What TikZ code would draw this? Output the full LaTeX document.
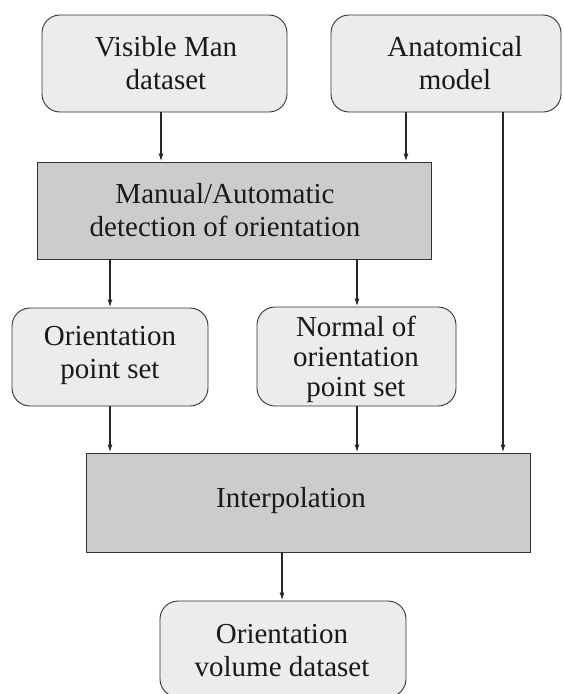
\documentclass[tikz,border=0pt]{standalone}
\usepackage{fontspec}
\setmainfont{Liberation Serif}
\usetikzlibrary{arrows.meta}
\begin{document}
\begin{tikzpicture}[x=1pt,y=-1pt,
  rbox/.style={draw=black!80, line width=0.9pt, fill=gray!15, rounded corners=18pt, inner sep=0pt},
  sbox/.style={draw=black!80, line width=0.9pt, fill=gray!40, inner sep=0pt},
  lbl/.style={align=center, inner sep=0pt, font=\fontsize{29}{33}\selectfont, text=black!90},
  arr/.style={draw=black!85, line width=1.4pt, -{Latex[length=8pt,width=5pt]}}]
\useasboundingbox (0,0) rectangle (564,694);
% boxes
\node[rbox, minimum width=245pt, minimum height=97pt] (vm) at (164.5,63.5) {};
\node[rbox, minimum width=230pt, minimum height=97pt] (am) at (446,63.5) {};
\node[sbox, minimum width=394pt, minimum height=97pt] (md) at (234,210.5) {};
\node[rbox, minimum width=196pt, minimum height=98pt] (ops) at (110,357) {};
\node[rbox, minimum width=199pt, minimum height=99pt] (nps) at (356.5,356.5) {};
\node[sbox, minimum width=444pt, minimum height=99pt] (ip) at (308,502.5) {};
\node[rbox, minimum width=246pt, minimum height=96pt] (ovd) at (283,649) {};
% labels
\node[lbl] (vmt) at (166,63.5) {Visible Man\\dataset};
\node[lbl] (amt) at (455,63.5) {Anatomical\\model};
\node[lbl] (mdt) at (225,210.5) {Manual/Automatic\\detection of orientation};
\node[lbl] (opst) at (110,355) {Orientation\\point set};
\node[lbl, font=\fontsize{29}{30}\selectfont] (npst) at (356,359) {Normal of\\orientation\\point set};
\node[lbl] (ipt) at (291,501) {Interpolation};
\node[lbl] (ovdt) at (282,651) {Orientation\\volume dataset};
% connector x positions
\coordinate (c1) at (161,0);
\coordinate (c2) at (406,0);
\coordinate (c3) at (503,0);
\coordinate (c4) at (110,0);
\coordinate (c5) at (357,0);
\coordinate (c6) at (282,0);
% connectors
\draw[arr] (vm.south -| c1) -- (md.north -| c1);
\draw[arr] (am.south -| c2) -- (md.north -| c2);
\draw[arr] (am.south -| c3) -- (ip.north -| c3);
\draw[arr] (md.south -| c4) -- (ops.north -| c4);
\draw[arr] (md.south -| c5) -- (nps.north -| c5);
\draw[arr] (ops.south -| c4) -- (ip.north -| c4);
\draw[arr] (nps.south -| c5) -- (ip.north -| c5);
\draw[arr] (ip.south -| c6) -- (ovd.north -| c6);
\end{tikzpicture}
\end{document}
